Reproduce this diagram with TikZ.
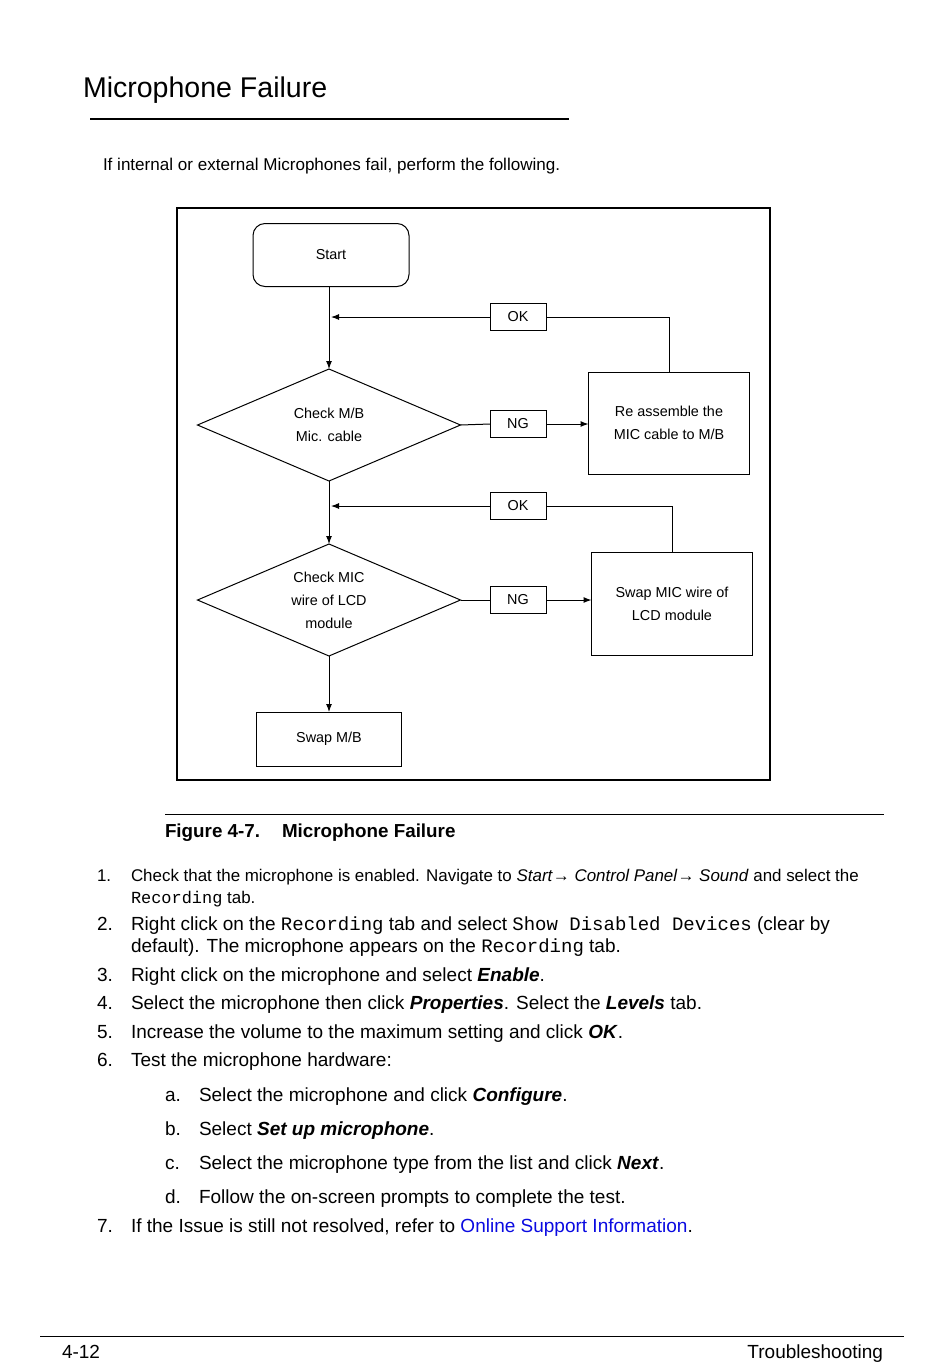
\documentclass[tikz,border=0pt]{standalone}
\usepackage{fontspec}
\setmainfont{Liberation Sans}
\setmonofont{Liberation Mono}
\usetikzlibrary{shapes.geometric,arrows.meta}
\definecolor{linkblue}{RGB}{10,10,225}
\newcommand{\strongit}[1]{\textbf{\textit{#1}}}

\begin{document}
\begin{tikzpicture}[x=0.75pt,y=-0.75pt,
  every node/.style={inner sep=0pt,outer sep=0pt},
  chart/.style={font=\fontsize{10.8}{17.25}\selectfont,align=center},
  box/.style={chart,draw,line width=0.75pt},
  tag/.style={box,minimum width=42pt,minimum height=20.25pt},
  decide/.style={chart,draw,diamond,aspect=2.35,line width=0.75pt,
    minimum width=197.25pt,minimum height=84pt},
  flow/.style={line width=0.75pt,-{Latex[length=6pt,width=4.5pt]}},
  link/.style={line width=0.75pt},
  body/.style={anchor=base west,font=\fontsize{14.25}{16}\selectfont},
  small body/.style={anchor=base west,font=\fontsize{12.7}{15}\selectfont},
  num/.style={body}]
\useasboundingbox (0,0) rectangle (950,1364);

% heading
\node[anchor=base west,font=\fontsize{21.4}{24}\selectfont] (title) at (83,97) {Microphone Failure};
\draw[line width=1.5pt] (90,119) -- (569,119);
\node[anchor=base west,font=\fontsize{12.8}{14}\selectfont] (intro) at (103,170)
  {If internal or external Microphones fail, perform the following.};

% flowchart
\draw[line width=1.5pt] (177,208) rectangle (770,780);
\node[box,rounded corners=9pt,minimum width=117pt,minimum height=47.25pt] (start) at (331,255) {Start};
\node[decide] (chk1) at (329,425) {Check M/B\\Mic. cable};
\node[tag] (ok1) at (518,317) {OK};
\node[tag] (ng1) at (518,424) {NG};
\node[box,minimum width=120.75pt,minimum height=76.5pt] (fix1) at (669,423)
  {\raisebox{-1.5pt}{\parbox{110pt}{\centering Re assemble the\\MIC cable to M/B}}};
\node[decide] (chk2) at (329,600) {Check MIC\\wire of LCD\\module};
\node[tag] (ok2) at (518,506) {OK};
\node[tag] (ng2) at (518,600) {NG};
\node[box,minimum width=120.75pt,minimum height=77.25pt] (fix2) at (672,603.5)
  {\raisebox{-1.5pt}{\parbox{110pt}{\centering Swap MIC wire of\\LCD module}}};
\node[box,minimum width=108.75pt,minimum height=40.5pt] (swapmb) at (329,739) {Swap M/B};

\draw[flow] (start.south -| chk1.north) -- (chk1.north);
\draw[link] (fix1.north) |- (ok1.east);
\draw[flow,shorten >=1.5pt] (ok1.west) -- (ok1.west -| chk1.north);
\draw[link] (chk1.east) -- (ng1.west);
\draw[flow] (ng1.east) -- (ng1.east -| fix1.west);
\draw[flow] (chk1.south) -- (chk2.north);
\draw[link] (fix2.north) |- (ok2.east);
\draw[flow,shorten >=1.5pt] (ok2.west) -- (ok2.west -| chk2.north);
\draw[link] (chk2.east) -- (ng2.west);
\draw[flow] (ng2.east) -- (ng2.east -| fix2.west);
\draw[flow] (chk2.south) -- (swapmb.north);

% caption
\draw[line width=0.75pt] (165,814) -- (884,814);
\node[anchor=base west,font=\bfseries\fontsize{14.1}{16}\selectfont] (caption) at (165,837)
  {Figure 4-7.\hspace{16.5pt}Microphone Failure};

% steps
\node[small body] (n1) at (97,881) {1.};
\node[small body] (s1a) at (131,881) {Check that the microphone is enabled. Navigate to \textit{Start}→ \textit{Control Panel}→ \textit{Sound} and select the};
\node[small body] (s1b) at (131,903) {\texttt{Recording} tab.};
\node[num] (n2) at (97,930) {2.};
\node[body] (s2a) at (131,930) {Right click on the \texttt{Recording} tab and select \texttt{Show Disabled Devices} (clear by};
\node[body] (s2b) at (131,952) {default). The microphone appears on the \texttt{Recording} tab.};
\node[num] (n3) at (97,981) {3.};
\node[body] (s3) at (131,981) {Right click on the microphone and select \strongit{Enable}.};
\node[num] (n4) at (97,1009) {4.};
\node[body] (s4) at (131,1009) {Select the microphone then click \strongit{Properties}. Select the \strongit{Levels} tab.};
\node[num] (n5) at (97,1038) {5.};
\node[body] (s5) at (131,1038) {Increase the volume to the maximum setting and click \strongit{OK}.};
\node[num] (n6) at (97,1066) {6.};
\node[body] (s6) at (131,1066) {Test the microphone hardware:};
\node[num] (na) at (165,1101) {a.};
\node[body] (sa) at (199,1101) {Select the microphone and click \strongit{Configure}.};
\node[num] (nb) at (165,1135) {b.};
\node[body] (sb) at (199,1135) {Select \strongit{Set up microphone}.};
\node[num] (nc) at (165,1169) {c.};
\node[body] (sc) at (199,1169) {Select the microphone type from the list and click \strongit{Next}.};
\node[num] (nd) at (165,1203) {d.};
\node[body] (sd) at (199,1203) {Follow the on-screen prompts to complete the test.};
\node[num] (n7) at (97,1232) {7.};
\node[body] (s7) at (131,1232) {If the Issue is still not resolved, refer to \textcolor{linkblue}{Online Support Information}.};

% footer
\draw[line width=0.75pt] (40,1336) -- (904,1336);
\node[body] (page) at (62,1358) {4-12};
\node[body,anchor=base east] (chapter) at (883,1358) {Troubleshooting};
\end{tikzpicture}
\end{document}
